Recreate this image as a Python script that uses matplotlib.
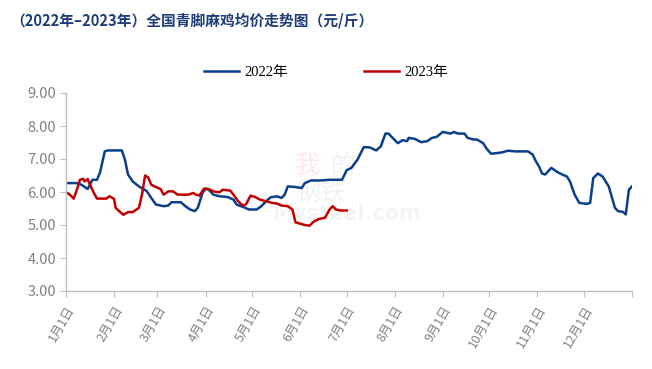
import matplotlib
matplotlib.use("Agg")
import matplotlib.pyplot as plt

# ---- data (day of year, price in 元/斤) ----
days_2022 = [0, 7, 10, 13, 14, 17, 20, 22, 25, 27, 36, 38, 40, 43, 47, 52, 55, 58, 63, 66, 68, 74, 77, 80, 83, 85,
             88, 90, 92, 95, 99, 104, 108, 110, 114, 118, 123, 126, 129, 132, 136, 139, 141, 143, 148, 152, 154,
             158, 164, 170, 178, 181, 184, 188, 192, 196, 200, 203, 206, 208, 210, 214, 217, 220, 221, 225, 229,
             233, 236, 239, 243, 248, 250, 253, 257, 259, 263, 265, 269, 271, 274, 278, 281, 285, 290, 298, 301,
             303, 305, 307, 309, 311, 313, 317, 320, 323, 325, 328, 331, 336, 338, 340, 343, 346, 350, 354, 356,
             359, 361, 363, 365]
price_2022 = [6.27, 6.27, 6.22, 6.12, 6.09, 6.37, 6.37, 6.60, 7.23, 7.26, 7.26, 6.98, 6.53, 6.32, 6.17, 6.03, 5.82,
              5.62, 5.57, 5.59, 5.69, 5.69, 5.57, 5.47, 5.42, 5.52, 5.97, 6.10, 6.07, 5.92, 5.87, 5.85, 5.77, 5.62,
              5.55, 5.47, 5.47, 5.57, 5.72, 5.84, 5.87, 5.82, 5.92, 6.17, 6.15, 6.12, 6.27, 6.35, 6.35, 6.37, 6.37,
              6.66, 6.73, 6.98, 7.36, 7.35, 7.26, 7.38, 7.77, 7.77, 7.67, 7.48, 7.57, 7.54, 7.64, 7.61, 7.51, 7.54,
              7.64, 7.67, 7.82, 7.77, 7.82, 7.77, 7.77, 7.64, 7.59, 7.59, 7.48, 7.33, 7.16, 7.18, 7.20, 7.25, 7.23,
              7.23, 7.13, 6.93, 6.78, 6.56, 6.53, 6.63, 6.73, 6.60, 6.53, 6.47, 6.32, 5.92, 5.67, 5.64, 5.67, 6.42,
              6.56, 6.47, 6.17, 5.52, 5.42, 5.40, 5.32, 6.07, 6.17]

days_2023 = [0, 2, 5, 7, 9, 11, 12, 14, 15, 18, 20, 26, 28, 31, 32, 35, 37, 40, 43, 47, 49, 51, 53, 55, 58, 61, 63,
             66, 69, 72, 79, 82, 84, 86, 89, 92, 95, 99, 101, 106, 108, 111, 114, 116, 119, 122, 125, 129, 133,
             136, 139, 143, 146, 148, 151, 154, 157, 160, 163, 167, 170, 172, 174, 177, 181]
price_2023 = [5.99, 5.94, 5.80, 6.07, 6.37, 6.40, 6.32, 6.39, 6.27, 5.97, 5.80, 5.80, 5.87, 5.79, 5.52, 5.39, 5.31,
              5.39, 5.39, 5.52, 5.92, 6.50, 6.44, 6.22, 6.15, 6.09, 5.92, 6.02, 6.02, 5.92, 5.92, 5.97, 5.92, 5.89,
              6.10, 6.09, 6.02, 5.99, 6.07, 6.04, 5.92, 5.72, 5.59, 5.62, 5.89, 5.85, 5.77, 5.72, 5.67, 5.65, 5.59,
              5.57, 5.47, 5.08, 5.04, 5.00, 4.98, 5.11, 5.18, 5.22, 5.47, 5.57, 5.47, 5.44, 5.44]

month_ticks = [0, 31, 59, 90, 120, 151, 181, 212, 243, 273, 304, 334, 365]
month_labels = ["1月1日", "2月1日", "3月1日", "4月1日", "5月1日", "6月1日", "7月1日", "8月1日",
                "9月1日", "10月1日", "11月1日", "12月1日", ""]
y_ticks = [3, 4, 5, 6, 7, 8, 9]

title = "（2022年–2023年）全国青脚麻鸡均价走势图（元/斤）"

# ---- figure ----
plt.rcParams['font.family'] = ['Noto Sans CJK SC', 'DejaVu Sans']
W, H = 652, 369
fig = plt.figure(figsize=(W / 100, H / 100), dpi=100)
ax = fig.add_axes([66 / W, 78 / H, (632 - 66) / W, (291 - 93) / H])
ax.set_zorder(2)
ax.patch.set_alpha(0)

blue = "#0B3F8C"
red = "#C00000"
ax.plot(days_2022, price_2022, color=blue, lw=1.8, label="2022年", solid_joinstyle='round')
ax.plot(days_2023, price_2023, color=red, lw=1.8, label="2023年", solid_joinstyle='round')

ax.set_xlim(0, 365)
ax.set_ylim(3, 9)
ax.set_yticks(y_ticks)
ax.set_yticklabels([f"{v:.2f}" for v in y_ticks], color="#808080", fontsize=10.5)
ax.set_xticks(month_ticks)
ax.set_xticklabels(month_labels, rotation=60, ha='right', va='top', rotation_mode='anchor',
                   color="#808080", fontsize=9, family=['Noto Sans CJK SC', 'DejaVu Sans'])

for s in ['top', 'right']:
    ax.spines[s].set_visible(False)
for s in ['left', 'bottom']:
    ax.spines[s].set_color("#BFBFBF")
    ax.spines[s].set_linewidth(1.0)
ax.tick_params(axis='y', length=4, color="#BFBFBF", pad=3)
ax.tick_params(axis='x', length=4, color="#BFBFBF", pad=5)

# very faint watermark
fig.text(295 / W, 1 - 166 / H, "我", ha='left', va='center', fontsize=18, color="#FBEAEA", zorder=0)
fig.text(331 / W, 1 - 166 / H, "的", ha='left', va='center', fontsize=18, color="#F0F2F7", zorder=0)
fig.text(295 / W, 1 - 193 / H, "钢铁", ha='left', va='center', fontsize=18, color="#F0F2F7", zorder=0)
fig.text(272 / W, 1 - 214 / H, "Mysteel.com", ha='left', va='center', fontsize=15, fontweight='bold',
         color="#F4F4F4", family=['DejaVu Sans'], zorder=0)

fig.text(10 / W, 1 - 20 / H, title, ha='left', va='center', fontsize=10.6, color="#1F3D7A",
         fontweight='bold')

leg = fig.legend(loc='center', bbox_to_anchor=(0.50, 1 - 72 / H), ncol=2, frameon=False,
                 handlelength=2.4, handletextpad=0.4, columnspacing=5.2,
                 prop={'family': ['Liberation Serif', 'Noto Sans CJK SC'], 'size': 10.5})

fig.savefig("out.png", dpi=100)
